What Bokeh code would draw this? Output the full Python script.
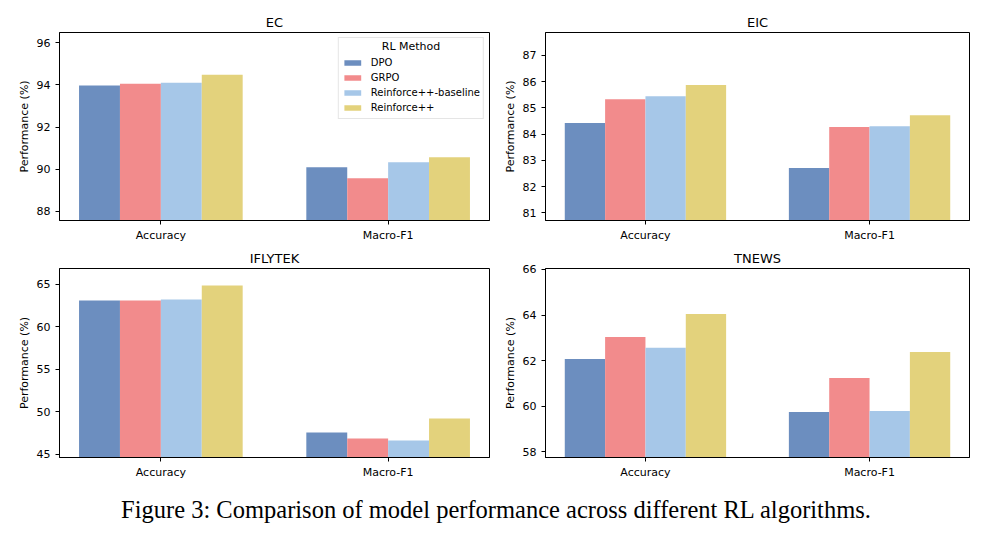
from bokeh.plotting import figure
from bokeh.models import (FactorRange, Range1d, SingleIntervalTicker, Legend,
                          LegendItem, Div, ColumnDataSource, Label)
from bokeh.transform import dodge
from bokeh.layouts import column, row
from bokeh.embed import file_html
from bokeh.resources import INLINE

# ---------------- data ----------------
metrics = ["Accuracy", "Macro-F1"]
methods = ["DPO", "GRPO", "Reinforce++-baseline", "Reinforce++"]
colors = ["#6c8ebf", "#f28b8c", "#a6c7e8", "#e3d27c"]

ec_dpo = [93.97, 90.10]
ec_grpo = [94.06, 89.57]
ec_rpp_base = [94.11, 90.33]
ec_rpp = [94.49, 90.57]

eic_dpo = [84.42, 82.71]
eic_grpo = [85.33, 84.27]
eic_rpp_base = [85.44, 84.30]
eic_rpp = [85.87, 84.72]

iflytek_dpo = [63.11, 47.56]
iflytek_grpo = [63.10, 46.85]
iflytek_rpp_base = [63.23, 46.61]
iflytek_rpp = [64.88, 49.20]

tnews_dpo = [62.07, 59.75]
tnews_grpo = [63.04, 61.24]
tnews_rpp_base = [62.56, 59.79]
tnews_rpp = [64.04, 62.38]

panel_names = ["EC", "EIC", "IFLYTEK", "TNEWS"]
panel_ticks = [2, 1, 5, 2]

panel_data = {
    "EC": [ec_dpo, ec_grpo, ec_rpp_base, ec_rpp],
    "EIC": [eic_dpo, eic_grpo, eic_rpp_base, eic_rpp],
    "IFLYTEK": [iflytek_dpo, iflytek_grpo, iflytek_rpp_base, iflytek_rpp],
    "TNEWS": [tnews_dpo, tnews_grpo, tnews_rpp_base, tnews_rpp],
}

FONT = "DejaVu Sans"
BAR_W = 0.18
PAD = -0.054


def make_panel(name, interval, left, right, top, bottom, with_legend):
    series = panel_data[name]
    allv = [v for s in series for v in s]
    lo, hi = min(allv) - 2, max(allv) + 2
    data = {"metric": metrics}
    for m, s in zip(methods, series):
        data[m] = s
    src = ColumnDataSource(data)

    p = figure(x_range=FactorRange(factors=metrics, range_padding=PAD),
               y_range=Range1d(lo, hi), width=492, height=237,
               output_backend="svg", toolbar_location=None,
               min_border_left=left, min_border_right=right,
               min_border_top=top, min_border_bottom=bottom,
               title=name)
    p.title.align = "center"
    p.title.text_font = FONT
    p.title.text_font_size = "13px"
    p.title.text_font_style = "normal"
    p.title.text_color = "black"
    p.title.standoff = 5

    renderers = []
    for i, (m, c) in enumerate(zip(methods, colors)):
        r = p.vbar(x=dodge("metric", (i - 1.5) * BAR_W, range=p.x_range),
                   top=m, bottom=0, width=BAR_W, source=src,
                   fill_color=c, line_color=None)
        renderers.append((m, r))

    p.xgrid.visible = False
    p.ygrid.visible = False
    p.outline_line_color = "black"
    p.outline_line_alpha = 1
    p.outline_line_width = 1
    p.background_fill_color = "white"
    p.border_fill_color = "white"

    for ax in (p.xaxis[0], p.yaxis[0]):
        ax.axis_line_color = "black"
        ax.major_tick_line_color = "black"
        ax.major_tick_out = 4
        ax.major_tick_in = 0
        ax.minor_tick_line_color = None
        ax.major_label_text_font = FONT
        ax.major_label_text_font_size = "11px"
        ax.major_label_text_color = "black"
        ax.major_label_standoff = 5
    p.xaxis[0].major_label_standoff = 4

    p.yaxis[0].ticker = SingleIntervalTicker(interval=interval)
    p.yaxis[0].axis_label = "Performance (%)"
    p.yaxis[0].axis_label_text_font = FONT
    p.yaxis[0].axis_label_text_font_size = "11px"
    p.yaxis[0].axis_label_text_font_style = "normal"
    p.yaxis[0].axis_label_text_color = "black"
    p.yaxis[0].axis_label_standoff = 3

    if with_legend:
        legend = Legend(items=[LegendItem(label=m, renderers=[r]) for m, r in renderers],
                        location="top_right", title="RL Method")
        legend.margin = 5
        legend.padding = 3
        legend.spacing = 0
        legend.glyph_width = 21
        legend.glyph_height = 7
        legend.label_height = 15
        legend.label_standoff = 8
        legend.label_text_font = FONT
        legend.label_text_font_size = "10px"
        legend.label_text_color = "black"
        legend.title_text_font = FONT
        legend.title_text_font_size = "11px"
        legend.title_text_font_style = "normal"
        legend.title_text_color = "black"
        legend.title_text_alpha = 0
        legend.title_standoff = 1
        legend.border_line_color = "#cccccc"
        legend.border_line_width = 1
        legend.background_fill_alpha = 0
        p.add_layout(legend)
        # centred legend title drawn in the (hidden) legend title slot
        x0, x1 = 0 - PAD, len(metrics) + PAD
        frame_w = 492 - left - right
        frame_h = 237 - top - bottom
        cx = x0 + (x1 - x0) * (frame_w - 5 - 73.5) / frame_w
        cy = hi - (hi - lo) * 13.5 / frame_h
        p.add_layout(Label(x=cx, y=cy, text="RL Method", text_align="center",
                           text_baseline="middle", text_font=FONT,
                           text_font_size="11px", text_color="black",
                           level="overlay"))
    return p


p1 = make_panel("EC", panel_ticks[0], 51, 11, 24, 25, True)
p2 = make_panel("EIC", panel_ticks[1], 39, 23, 24, 25, False)
p3 = make_panel("IFLYTEK", panel_ticks[2], 51, 11, 23, 25, False)
p4 = make_panel("TNEWS", panel_ticks[3], 39, 23, 23, 25, False)

caption = Div(text="Figure 3: Comparison of model performance across different RL algorithms.",
              width=984, height=45,
              styles={"font-family": "Liberation Serif", "font-size": "24.5px",
                      "text-align": "center", "color": "black",
                      "padding-top": "5px", "padding-right": "18px",
                      "box-sizing": "border-box", "white-space": "nowrap"})

layout = column(row(p1, p2), row(p3, p4), caption, margin=(8, 0, 0, 8))

open("out.html", "w").write(file_html(layout, INLINE))
